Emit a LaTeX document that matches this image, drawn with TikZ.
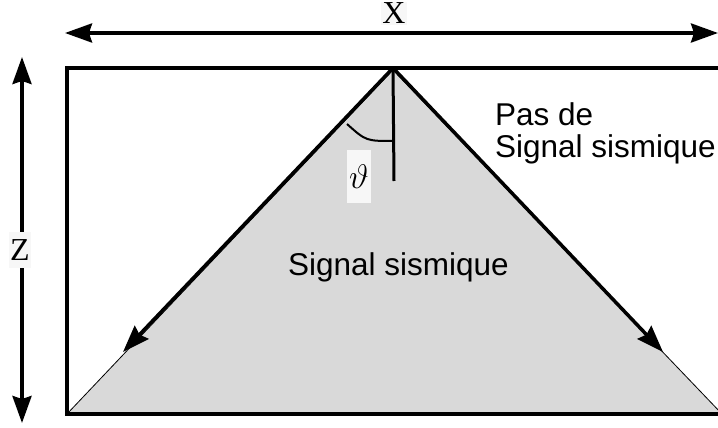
\RequirePackage{fix-cm}
\documentclass[tikz,border=0pt]{standalone}
\usepackage{fontspec}
\setmainfont{Liberation Serif}
\newfontfamily\sansf{Liberation Sans}
\usepackage{xcolor}
\usetikzlibrary{arrows.meta}
\definecolor{zonegray}{RGB}{217,217,217}
\definecolor{labelbg}{RGB}{247,247,247}

\begin{document}
\begin{tikzpicture}[x=1pt, y=-1pt, >={Stealth[length=27pt, width=19pt, inset=3pt]},
  every node/.style={inner sep=1pt},
  dim/.style={<->, line width=3.5pt},
  ray/.style={->, line width=3.5pt},
  axislbl/.style={fill=labelbg, font=\fontsize{32}{32}\selectfont},
  txt/.style={font=\sansf\fontsize{31.5}{32}\selectfont, align=left}]
  \useasboundingbox (0,0) rectangle (718,428);
  \clip (0,0) rectangle (718,428);

  % points of the section
  \coordinate (apex) at (393,68);
  \coordinate (bl) at (67,414);
  \coordinate (br) at (722,414);
  \coordinate (tipL) at (123,352);
  \coordinate (tipR) at (663,352);
  \coordinate (vbot) at (394,181);

  % zone with signal
  \fill[zonegray] (393,70) -- (bl) -- (br) -- cycle;
  \draw[line width=0.8pt] (bl) -- (393,70) -- (br);

  % section frame
  \draw[line width=3.5pt] (67,68) rectangle (740,414);

  % dimensions
  \coordinate (xl) at (65,33);
  \coordinate (xr) at (718,33);
  \coordinate (zt) at (22,57);
  \coordinate (zb) at (22,423);
  \draw[dim] (xl) -- (xr);
  \draw[dim] (zt) -- (zb);
  \node[axislbl] (xlbl) at (394,13.5) {X};
  \node[axislbl, minimum height=36pt] (zlbl) at (20,250) {Z};

  % rays and angle
  \draw[ray] (apex) -- (tipL);
  \draw[ray] (apex) -- (tipR);
  \draw[line width=3pt] (apex) -- (vbot);
  \draw[line width=2pt] (347,124) .. controls (366,141) .. (394,141);
  \node[fill=labelbg, minimum width=24pt, minimum height=53pt,
    font=\fontsize{34}{34}\selectfont] (theta) at (359,176.5) {$\vartheta$};

  % texts
  \node[txt, anchor=north west] (nosig) at (494,101) {Pas de\\Signal sismique};
  \node[txt, anchor=base] (sig) at (398.5,275) {Signal sismique};
\end{tikzpicture}
\end{document}
